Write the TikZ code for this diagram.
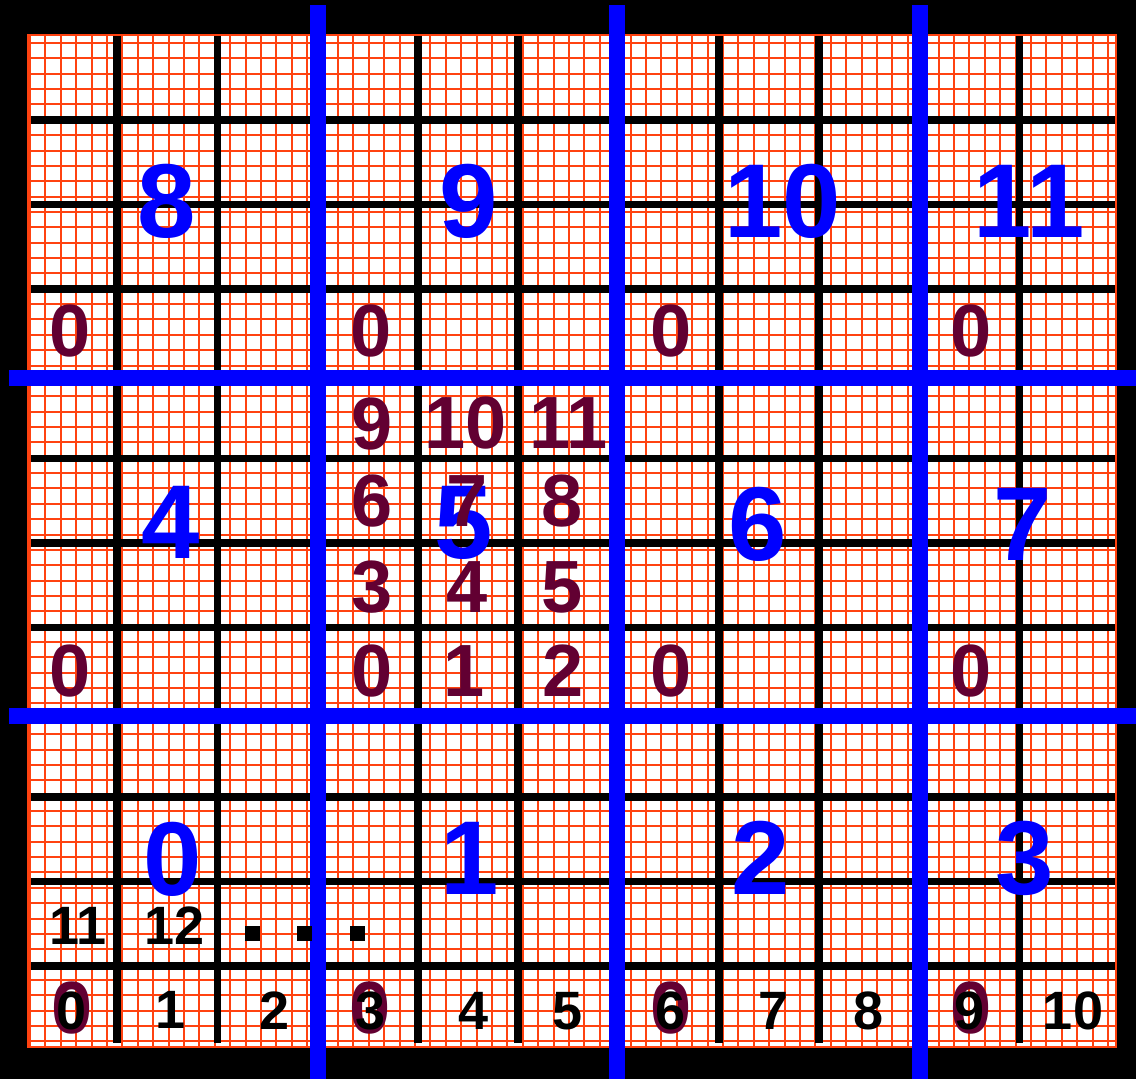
\documentclass[tikz,border=0pt]{standalone}
\usepackage{fontspec}
\setmainfont{Liberation Sans}
\definecolor{gridorange}{RGB}{255,66,16}
\definecolor{numMaroon}{RGB}{98,0,50}
\definecolor{pureBlue}{RGB}{0,0,255}
\tikzset{
  gridline/.style={draw=gridorange, line width=2pt},
  boldline/.style={draw=black, line width=7.5pt},
  blueline/.style={draw=pureBlue, line width=15.5pt},
  bignum/.style={text=pureBlue, inner sep=0pt, anchor=center, font=\fontsize{105}{105}\selectfont\bfseries},
  midnum/.style={text=numMaroon, inner sep=0pt, anchor=center, font=\fontsize{74}{74}\selectfont\bfseries},
  smallnum/.style={text=black, inner sep=0pt, anchor=center, font=\fontsize{54}{54}\selectfont\bfseries},
  dotbox/.style={fill=black, inner sep=0pt, minimum size=15pt, draw=none}
}
\begin{document}
\begin{tikzpicture}[x=1pt, y=-1pt]
\fill[black] (0,0) rectangle (1136,1079);
\useasboundingbox (0,0) rectangle (1136,1079);
% paper
\fill[white] (28,35) rectangle (1116,1047);
\foreach \k in {0,...,70} \draw[gridline] ({30+15.4*\k},35) -- ({30+15.4*\k},1047);
\foreach \k in {0,...,65} \draw[gridline] (28,{43+15.36*\k}) -- (1116,{43+15.36*\k});
\draw[gridline, line width=2.8pt] (28,35) rectangle (1116,1047);
% black cell lines
\foreach \k in {0,...,9} \draw[boldline] ({117+100.3*\k},36) -- ({117+100.3*\k},1043);
\foreach \k in {0,...,10} \draw[boldline] (31,{120+84.6*\k}) -- (1115,{120+84.6*\k});
% blue block lines
\foreach \xx in {318,617,920} \draw[blueline] (\xx,5) -- (\xx,1079);
\foreach \yy in {378,716} \draw[blueline] (9,\yy) -- (1136,\yy);
% block numbers
\node[bignum] (b8) at (167,201) {8};
\node[bignum] (b9) at (469,201) {9};
\node[bignum] (b10) at (783,201) {10};
\node[bignum] (b11) at (1029,201) {11};
\node[bignum] (b4) at (171,522) {4};
\node[bignum] (b5) at (464,523) {5};
\node[bignum] (b6) at (758,524) {6};
\node[bignum] (b7) at (1023,524) {7};
\node[bignum] (b0) at (173,859) {0};
\node[bignum] (b1) at (470,858) {1};
\node[bignum] (b2) at (761,858) {2};
\node[bignum] (b3) at (1025,858) {3};
% maroon thread numbers
\node[midnum] (ma) at (70,331) {0};
\node[midnum] (mb) at (371,331) {0};
\node[midnum] (mc) at (671,331) {0};
\node[midnum] (md) at (971,331) {0};
\node[midnum] (t9) at (372,424) {9};
\node[midnum] (t10) at (466,423) {10};
\node[midnum] (t11) at (569,423) {11};
\node[midnum] (t6) at (372,501) {6};
\node[midnum] (t7) at (467,501) {7};
\node[midnum] (t8) at (562,501) {8};
\node[midnum] (t3) at (372,587) {3};
\node[midnum] (t4) at (467,587) {4};
\node[midnum] (t5) at (562,587) {5};
\node[midnum] (t0) at (372,671) {0};
\node[midnum] (t1) at (464,671) {1};
\node[midnum] (t2) at (563,671) {2};
\node[midnum] (me) at (70,671) {0};
\node[midnum] (mf) at (671,671) {0};
\node[midnum] (mg) at (971,671) {0};
\node[midnum] (mh) at (72,1008) {0};
\node[midnum] (mi) at (370,1008) {0};
\node[midnum] (mj) at (671,1008) {0};
\node[midnum] (mk) at (971,1008) {0};
% black numbers
\node[smallnum] (s11) at (78,926) {11};
\node[smallnum] (s12) at (175,926) {12};
\node[dotbox] (dot1) at (252,933) {};
\node[dotbox] (dot2) at (304,933) {};
\node[dotbox] (dot3) at (357,933) {};
\node[smallnum] (c0) at (72,1011) {0};
\node[smallnum] (c1) at (171,1010) {1};
\node[smallnum] (c2) at (275,1011) {2};
\node[smallnum] (c3) at (371,1011) {3};
\node[smallnum] (c4) at (474,1011) {4};
\node[smallnum] (c5) at (568,1011) {5};
\node[smallnum] (c6) at (671,1011) {6};
\node[smallnum] (c7) at (774,1011) {7};
\node[smallnum] (c8) at (869,1011) {8};
\node[smallnum] (c9) at (970,1011) {9};
\node[smallnum] (c10) at (1073,1011) {10};
\end{tikzpicture}
\end{document}
